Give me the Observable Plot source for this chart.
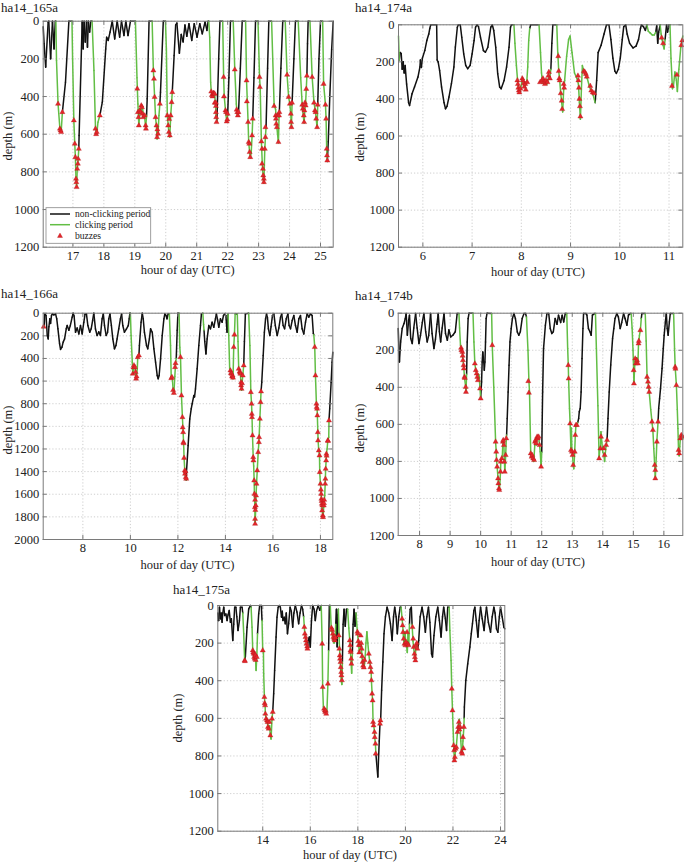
<!DOCTYPE html>
<html><head><meta charset="utf-8">
<script src="https://cdn.jsdelivr.net/npm/d3@7"></script>
<script src="https://cdn.jsdelivr.net/npm/@observablehq/plot@0.6"></script>
<style>
html,body{margin:0;padding:0;background:#fff;}
#root{position:relative;width:684px;height:862px;overflow:hidden;font-family:"Liberation Serif","Times New Roman",serif;color:#222;background:#fff;}
.title{position:absolute;font-size:13px;line-height:13px;white-space:nowrap;}
.xlab{position:absolute;font-size:12.5px;line-height:10px;white-space:nowrap;transform:translateX(-50%);}
.ylab{position:absolute;font-size:12.5px;line-height:12px;white-space:nowrap;transform:translate(-50%,-50%) rotate(-90deg);}
.panel{position:absolute;}
</style></head><body><div id="root"></div>
<script>
// ---- DATA: dive tracks [hour (UTC), depth m, clicking 0/1] and buzzes [hour, depth m] ----
const track165a = [
[16.04,30,0],[16.07,120,0],[16.12,244,0],[16.2,5,0],[16.22,0,0],[16.28,200,0],[16.34,0,0],[16.39,147,0],[16.43,0,0],
[16.45,0,1],[16.47,209,1],[16.52,439,1],[16.58,571,1],[16.62,589,1],[16.66,483,0],[16.76,324,0],[16.87,0,0],
[16.97,0,1],[16.99,200,1],[17.03,527,1],[17.06,651,1],[17.08,722,1],[17.1,837,1],[17.12,881,1],[17.14,784,1],[17.16,757,1],[17.19,678,0],
[17.2,607,0],[17.3,0,0],[17.33,147,0],[17.36,0,0],[17.4,111,0],[17.44,0,0],[17.47,138,0],[17.5,0,0],[17.54,58,0],[17.58,0,0],
[17.62,0,1],[17.68,262,1],[17.73,571,1],[17.77,600,1],[17.81,536,1],[17.87,501,0],[17.95,430,0],[18.06,147,0],[18.09,85,0],
[18.14,102,0],[18.2,58,0],[18.27,0,0],[18.35,94,0],[18.43,0,0],[18.51,85,0],[18.57,0,0],[18.65,76,0],[18.71,0,0],[18.78,76,0],[18.86,0,0],
[19.02,0,1],[19.07,300,1],[19.1,440,1],[19.13,554,1],[19.16,490,1],[19.2,470,1],[19.24,450,1],[19.28,500,1],[19.32,510,1],[19.35,565,1],
[19.38,500,0],[19.4,412,0],[19.46,0,0],
[19.56,0,1],[19.6,262,1],[19.64,403,1],[19.67,510,1],[19.7,560,1],[19.72,625,1],[19.75,598,1],[19.78,501,1],[19.81,439,0],[19.83,377,0],[19.92,0,0],
[19.99,0,1],[20.02,147,1],[20.05,501,1],[20.08,554,1],[20.1,589,1],[20.13,615,1],[20.16,501,1],[20.19,430,1],[20.21,377,0],
[20.27,182,0],[20.32,20,0],[20.36,10,0],[20.44,170,0],[20.5,70,0],[20.56,110,0],[20.62,20,0],[20.68,80,0],[20.75,13,0],[20.84,102,0],
[20.92,13,0],[21.01,85,0],[21.1,13,0],[21.18,67,0],[21.27,4,0],[21.33,49,0],[21.37,0,0],
[21.39,0,1],[21.42,85,1],[21.45,324,1],[21.47,374,1],[21.51,400,1],[21.54,381,1],[21.58,390,1],[21.61,445,1],[21.63,500,1],[21.65,536,0],
[21.66,480,0],[21.71,200,0],[21.75,0,0],
[21.84,0,1],[21.87,298,1],[21.89,400,1],[21.93,474,1],[21.97,534,1],[22.0,500,0],[22.04,300,0],[22.09,0,0],
[22.18,0,1],[22.23,257,1],[22.28,440,1],[22.31,500,1],[22.35,490,0],[22.41,250,0],[22.47,0,0],
[22.58,0,1],[22.61,315,1],[22.66,536,1],[22.68,642,1],[22.71,695,1],[22.73,725,1],[22.76,700,1],[22.79,607,1],[22.81,520,0],[22.85,300,0],[22.9,0,0],
[22.98,0,1],[23.03,297,1],[23.05,350,1],[23.09,639,1],[23.12,760,1],[23.15,837,1],[23.17,860,1],[23.2,678,1],[23.22,616,1],[23.24,565,0],[23.29,250,0],[23.33,0,0],
[23.42,0,1],[23.5,439,1],[23.55,470,1],[23.57,520,1],[23.59,563,1],[23.64,645,1],[23.66,510,1],[23.67,483,0],[23.72,250,0],[23.78,0,0],
[23.86,0,1],[23.92,285,1],[23.97,403,1],[24.01,440,1],[24.04,492,1],[24.06,565,1],[24.08,440,0],[24.14,200,0],[24.19,0,0],
[24.28,0,1],[24.36,300,1],[24.41,450,1],[24.44,500,1],[24.47,540,1],[24.49,480,1],[24.52,430,1],[24.54,360,1],[24.56,290,0],[24.58,120,0],[24.6,0,0],
[24.66,0,1],[24.73,297,1],[24.79,433,1],[24.84,483,1],[24.86,518,1],[24.89,565,1],[24.91,445,0],[24.95,200,0],[25.0,0,0],
[25.07,0,1],[25.1,333,1],[25.16,444,1],[25.18,518,1],[25.2,678,1],[25.22,745,0],[25.25,640,0],[25.3,400,0],[25.36,150,0],[25.41,0,0]
];
const buzz165a = [
[16.52,439],[16.58,571],[16.6,580],[16.62,589],[16.66,483],
[17.03,527],[17.06,651],[17.08,722],[17.1,837],[17.11,855],[17.12,881],[17.14,784],[17.16,757],[17.17,731],[17.19,678],
[17.73,571],[17.75,600],[17.77,589],[17.87,501],
[19.08,359],[19.1,483],[19.12,510],[19.13,554],[19.16,474],[19.19,483],[19.21,448],[19.23,457],[19.25,492],[19.27,510],[19.32,501],[19.35,554],[19.36,571],
[19.6,262],[19.62,306],[19.64,403],[19.67,510],[19.7,554],[19.72,616],[19.73,575],[19.75,598],[19.81,439],
[20.05,501],[20.08,554],[20.1,589],[20.11,520],[20.13,607],[20.16,501],[20.19,430],[20.21,377],
[21.47,374],[21.49,392],[21.51,400],[21.54,381],[21.56,385],[21.58,385],[21.58,433],[21.62,433],[21.62,451],[21.62,483],[21.63,510],[21.64,536],
[21.87,297],[21.88,400],[21.93,474],[21.95,483],[21.97,533],[21.99,522],[22.0,492],
[22.23,257],[22.29,470],[22.31,483],[22.33,501],[22.35,483],
[22.61,315],[22.62,426],[22.66,536],[22.68,642],[22.7,651],[22.71,695],[22.73,722],[22.79,607],[22.81,518],
[23.03,297],[23.04,350],[23.09,639],[23.11,678],[23.11,757],[23.14,784],[23.15,819],[23.17,837],[23.17,855],[23.2,678],[23.22,616],[23.22,563],
[23.5,451],[23.55,501],[23.56,518],[23.57,545],[23.59,563],[23.61,501],[23.66,501],[23.67,483],[23.64,642],
[23.92,285],[23.97,403],[24.01,439],[24.04,492],[24.05,536],[24.06,563],[24.08,433],
[24.41,444],[24.43,465],[24.46,501],[24.47,536],[24.48,474],[24.5,433],[24.52,448],[24.54,360],[24.56,290],
[24.73,297],[24.79,433],[24.82,474],[24.84,483],[24.86,518],[24.89,563],[24.91,444],
[25.1,333],[25.16,444],[25.18,518],[25.2,678],[25.21,713],[25.22,740]
];
const track174a = [
[5.505,60,1],[5.52,190,0],[5.54,150,0],[5.56,155,0],[5.58,240,0],[5.6,200,0],[5.62,260,0],[5.64,220,0],[5.67,320,0],[5.71,420,0],[5.73,435,0],
[5.78,372,0],[5.83,336,0],[5.9,282,0],[5.94,228,0],[5.95,190,0],[5.97,230,0],[5.99,180,0],[6.04,138,0],[6.08,85,0],[6.12,50,0],[6.14,20,0],
[6.16,0,0],[6.28,0,0],[6.29,190,0],[6.31,200,0],[6.34,246,0],[6.38,336,0],[6.43,420,0],[6.46,453,0],[6.49,440,0],[6.53,390,0],[6.58,318,0],
[6.63,228,0],[6.66,120,0],[6.7,13,0],[6.72,0,0],[6.76,0,0],[6.79,67,0],[6.83,157,0],[6.87,219,0],[6.91,237,0],[6.96,219,0],[7.0,157,0],
[7.04,85,0],[7.07,13,0],[7.1,0,0],[7.13,10,0],[7.17,67,0],[7.23,139,0],[7.27,148,0],[7.32,121,0],[7.38,13,0],[7.41,0,0],[7.44,31,0],
[7.48,121,0],[7.52,264,0],[7.56,336,0],[7.59,345,0],[7.65,300,0],[7.7,228,0],[7.75,121,0],[7.78,13,0],[7.8,0,0],
[7.85,0,1],[7.87,100,1],[7.9,220,1],[7.93,320,1],[7.96,360,1],[7.99,340,1],[8.02,295,1],[8.05,320,1],[8.08,330,1],[8.11,310,1],[8.13,228,1],
[8.15,85,1],[8.17,20,0],[8.19,0,0],
[8.36,0,1],[8.39,150,1],[8.41,260,1],[8.43,310,1],[8.46,320,1],[8.49,300,1],[8.52,320,1],[8.55,290,1],[8.58,280,1],[8.6,240,0],[8.62,100,0],[8.64,0,0],
[8.72,0,1],[8.74,150,1],[8.76,250,1],[8.78,300,1],[8.8,370,1],[8.82,420,1],[8.84,470,1],[8.86,350,1],[8.88,300,1],[8.92,170,1],[8.96,80,1],
[8.99,60,1],[9.03,150,1],[9.08,260,1],[9.13,290,1],[9.16,320,1],[9.18,420,1],[9.2,510,1],[9.22,350,1],[9.24,220,1],[9.27,250,1],[9.3,270,1],
[9.34,290,1],[9.38,330,1],[9.42,360,1],[9.46,380,1],[9.5,420,0],[9.53,300,0],[9.56,150,0],[9.62,110,0],[9.68,50,0],[9.73,0,0],[9.78,0,0],
[9.82,80,0],[9.86,180,0],[9.9,250,0],[9.93,262,0],[9.97,240,0],[10.01,180,0],[10.05,80,0],[10.08,10,0],[10.12,0,0],[10.15,50,0],[10.2,100,0],
[10.27,125,0],[10.33,115,0],[10.38,80,0],[10.42,20,0],[10.44,0,0],[10.48,10,0],[10.52,30,0],
[10.55,0,1],[10.58,35,1],[10.62,45,1],[10.66,55,1],[10.7,55,1],[10.73,40,0],[10.75,5,0],[10.77,100,0],[10.79,40,0],
[10.82,0,1],[10.84,50,1],[10.86,80,1],[10.88,110,1],[10.9,130,1],[10.92,80,0],[10.95,0,0],[10.97,40,0],[11.0,0,0],
[11.02,0,1],[11.04,180,1],[11.07,345,1],[11.09,330,1],[11.12,255,1],[11.15,300,1],[11.17,360,1],[11.2,240,1],[11.24,120,1],[11.28,60,1]
];
const buzz174a = [
[7.92,300],[7.93,320],[7.94,340],[7.95,355],[7.96,365],[7.98,345],[8.02,290],[8.03,300],[8.05,315],[8.06,335],[8.08,320],[8.09,350],[8.12,310],
[8.38,310],[8.42,300],[8.44,290],[8.46,310],[8.48,320],[8.5,300],[8.53,310],[8.55,275],[8.56,255],[8.58,290],
[8.75,170],[8.76,250],[8.77,290],[8.78,300],[8.8,370],[8.82,410],[8.83,455],[8.86,320],[8.87,340],
[9.15,275],[9.16,300],[9.17,340],[9.18,400],[9.19,440],[9.2,495],
[9.27,250],[9.29,255],[9.31,265],[9.33,280],[9.4,330],[9.42,355],[9.45,365],[9.48,370],
[10.85,70],[10.88,100],[11.06,330],[11.16,270],[11.25,110],[11.27,85]
];
const track166a = [
[6.33,130,1],[6.37,110,0],[6.4,6,0],[6.45,20,0],[6.5,197,0],[6.54,227,0],[6.57,120,0],[6.61,50,0],[6.64,90,0],[6.68,20,0],[6.72,6,0],
[6.78,15,0],[6.85,6,0],[6.9,50,0],[6.95,138,0],[7.02,271,0],[7.06,320,0],[7.12,300,0],[7.17,256,0],[7.23,227,0],[7.3,138,0],[7.34,109,0],
[7.41,150,0],[7.47,110,0],[7.55,35,0],[7.59,0,0],[7.63,25,0],[7.69,168,0],[7.76,130,0],[7.83,183,0],[7.9,109,0],[7.97,183,0],[8.04,80,0],
[8.09,10,0],[8.15,6,0],[8.21,109,0],[8.29,168,0],[8.35,138,0],[8.41,65,0],[8.46,0,0],[8.53,140,0],[8.6,197,0],[8.67,165,0],[8.74,197,0],
[8.81,50,0],[8.86,6,0],[8.91,109,0],[8.98,197,0],[9.04,168,0],[9.09,50,0],[9.14,6,0],[9.2,109,0],[9.26,227,0],[9.33,315,0],[9.39,286,0],
[9.44,227,0],[9.51,138,0],[9.58,50,0],[9.63,6,0],[9.68,109,0],[9.75,168,0],[9.83,140,0],[9.91,109,0],[9.95,50,0],[9.98,0,0],
[10.0,0,1],[10.03,197,1],[10.08,433,1],[10.1,536,1],[10.15,462,1],[10.19,477,1],[10.22,536,1],[10.24,580,1],[10.29,492,1],[10.31,389,1],
[10.36,374,0],[10.38,286,0],[10.45,80,0],[10.5,0,0],[10.54,50,0],[10.59,168,0],[10.68,286,0],[10.73,315,0],[10.8,227,0],[10.85,138,0],
[10.92,168,0],[10.99,315,0],[11.06,433,0],[11.13,551,0],[11.17,580,0],[11.21,551,0],[11.27,404,0],[11.34,197,0],[11.41,50,0],[11.45,6,0],
[11.5,20,0],[11.54,50,0],[11.59,6,0],
[11.64,6,1],[11.69,286,1],[11.72,575,1],[11.76,560,1],[11.8,680,1],[11.83,710,1],[11.87,560,1],[11.9,450,1],[11.93,400,0],[11.97,150,0],[12.0,0,0],
[12.05,0,1],[12.08,300,1],[12.11,389,1],[12.15,728,1],[12.19,919,1],[12.22,1052,1],[12.24,1150,1],[12.26,1279,1],[12.29,1390,1],[12.31,1430,1],
[12.33,1449,1],[12.35,1475,0],[12.36,1405,0],[12.43,1170,0],[12.5,934,0],[12.56,845,0],[12.6,801,0],[12.67,728,0],[12.7,740,0],[12.74,669,0],
[12.81,492,0],[12.88,286,0],[12.95,109,0],[12.99,6,0],
[13.05,0,1],[13.08,100,1],[13.1,150,0],[13.13,250,0],[13.18,360,0],[13.23,227,0],[13.3,109,0],[13.37,138,0],[13.44,80,0],[13.51,124,0],
[13.58,50,0],[13.62,6,0],[13.67,60,0],[13.72,124,0],[13.79,50,0],[13.86,80,0],[13.92,20,0],[13.97,6,0],[14.02,21,0],[14.07,168,0],
[14.11,6,1],[14.14,197,1],[14.18,492,1],[14.21,507,1],[14.26,536,1],[14.3,560,1],[14.32,580,1],[14.35,300,1],[14.38,190,1],[14.41,6,0],
[14.5,6,1],[14.53,250,1],[14.56,492,1],[14.6,516,1],[14.63,536,1],[14.66,639,1],[14.68,680,1],[14.7,620,1],[14.73,551,1],[14.77,462,0],
[14.8,250,0],[14.84,6,0],
[14.98,0,1],[15.03,286,1],[15.07,698,1],[15.1,801,1],[15.12,919,1],[15.14,1081,1],[15.17,1273,1],[15.19,1350,1],[15.21,1479,1],[15.22,1597,1],
[15.24,1715,1],[15.25,1865,1],[15.28,1700,1],[15.29,1612,1],[15.31,1508,1],[15.34,1390,1],[15.38,1228,1],[15.41,1140,1],[15.45,934,1],
[15.48,787,1],[15.5,692,0],[15.53,610,0],[15.59,374,0],[15.64,168,0],[15.69,50,0],[15.73,6,0],[15.77,40,0],[15.81,138,0],[15.87,197,0],
[15.92,120,0],[15.98,21,0],[16.04,6,0],[16.1,109,0],[16.18,197,0],[16.25,130,0],[16.32,35,0],[16.37,6,0],[16.43,109,0],[16.49,138,0],
[16.56,50,0],[16.63,6,0],[16.68,109,0],[16.74,138,0],[16.81,65,0],[16.88,21,0],[16.95,109,0],[17.02,168,0],[17.09,50,0],[17.16,21,0],
[17.23,138,0],[17.3,183,0],[17.37,80,0],[17.44,6,0],[17.51,35,0],[17.58,6,0],[17.65,21,0],[17.7,180,0],
[17.72,190,1],[17.76,300,1],[17.79,551,1],[17.83,801,1],[17.86,845,1],[17.87,904,1],[17.89,1052,1],[17.9,1125,1],[17.93,1214,1],[17.96,1258,1],
[17.97,1405,1],[18.0,1508,1],[18.03,1597,1],[18.04,1641,1],[18.06,1685,1],[18.07,1744,1],[18.1,1788,1],[18.11,1810,1],[18.14,1700,1],
[18.16,1650,1],[18.18,1612,1],[18.2,1508,1],[18.22,1376,1],[18.24,1302,1],[18.25,1243,1],[18.28,1200,1],[18.31,1125,1],[18.35,1096,1],
[18.36,949,0],[18.39,845,0],[18.45,610,0],[18.49,433,0],[18.52,345,0]
];
const buzz166a = [
[6.35,120],
[10.1,536],[10.13,480],[10.15,462],[10.19,477],[10.22,520],[10.24,580],[10.26,560],[10.31,389],[10.36,374],
[11.72,575],[11.75,565],[11.8,680],[11.83,705],[11.88,477],[11.9,442],
[12.11,389],[12.15,728],[12.19,919],[12.2,1010],[12.22,1052],[12.23,1140],[12.24,1150],[12.26,1279],[12.29,1390],[12.3,1420],[12.32,1400],[12.33,1449],[12.35,1464],
[14.21,507],[14.23,530],[14.26,536],[14.28,560],[14.3,551],[14.32,570],[14.35,300],[14.38,190],
[14.56,492],[14.6,516],[14.62,525],[14.63,536],[14.66,610],[14.66,639],[14.68,669],[14.7,620],[14.73,551],[14.77,462],
[15.07,698],[15.1,801],[15.11,890],[15.12,919],[15.14,1081],[15.17,1273],[15.18,1302],[15.21,1479],[15.22,1597],[15.24,1715],[15.25,1818],
[15.25,1862],[15.25,1650],[15.26,1740],[15.28,1700],[15.29,1612],[15.31,1508],[15.34,1390],[15.38,1228],[15.41,1140],[15.42,1096],[15.45,934],[15.48,787],[15.5,692],
[17.76,300],[17.79,551],[17.83,801],[17.84,830],[17.86,845],[17.87,904],[17.89,1052],[17.9,1125],[17.93,1214],[17.96,1258],[17.97,1405],
[18.0,1508],[18.02,1560],[18.03,1597],[18.04,1641],[18.05,1660],[18.06,1685],[18.07,1744],[18.08,1700],[18.1,1788],[18.11,1803],[18.14,1700],
[18.15,1680],[18.16,1650],[18.2,1508],[18.21,1464],[18.22,1376],[18.24,1302],[18.25,1243],[18.26,1260],[18.31,1125],[18.32,1130],[18.36,949]
];
const track174b = [
[7.3,83,0],[7.34,263,0],[7.38,155,0],[7.43,83,0],[7.49,56,0],[7.53,30,0],[7.56,2,0],[7.6,119,0],[7.64,40,0],[7.67,11,0],[7.71,137,0],
[7.76,164,0],[7.81,80,0],[7.87,2,0],[7.92,80,0],[7.98,164,0],[8.03,120,0],[8.09,50,0],[8.14,2,0],[8.2,100,0],[8.25,155,0],[8.3,120,0],
[8.36,2,0],[8.41,110,0],[8.47,191,0],[8.52,140,0],[8.57,60,0],[8.61,2,0],[8.65,100,0],[8.69,155,0],[8.74,80,0],[8.8,2,0],[8.85,110,0],
[8.91,146,0],[8.96,90,0],[9.02,128,0],[9.09,119,0],[9.17,100,0],[9.23,2,0],
[9.29,2,1],[9.31,80,1],[9.34,173,1],[9.36,187,1],[9.4,209,1],[9.42,254,1],[9.44,281,1],[9.45,299,1],[9.47,344,1],[9.51,398,1],[9.52,425,1],
[9.54,330,0],[9.56,155,0],[9.59,29,0],[9.62,0,0],
[9.75,0,1],[9.78,155,1],[9.81,272,1],[9.84,308,1],[9.87,326,1],[9.89,344,1],[9.91,362,1],[9.93,330,1],[9.95,340,1],[9.98,407,1],[10.0,461,0],
[10.03,371,0],[10.05,263,0],[10.07,209,0],[10.1,260,0],[10.12,308,0],[10.14,263,0],[10.16,155,0],[10.18,29,0],[10.21,0,0],
[10.36,2,1],[10.38,173,1],[10.43,400,1],[10.49,694,1],[10.51,748,1],[10.52,793,1],[10.54,829,1],[10.57,892,1],[10.58,919,1],[10.6,946,1],
[10.61,955,1],[10.63,920,1],[10.65,856,1],[10.66,802,1],[10.69,784,1],[10.71,770,1],[10.73,694,1],[10.74,685,1],[10.76,712,1],[10.78,802,1],
[10.79,856,1],[10.82,766,1],[10.84,676,1],[10.85,658,0],[10.87,568,0],[10.9,425,0],[10.93,281,0],[10.96,155,0],[11.0,83,0],[11.04,29,0],
[11.09,2,0],[11.14,30,0],[11.2,101,0],[11.25,119,0],[11.3,100,0],[11.36,29,0],[11.42,2,0],[11.47,2,0],
[11.5,20,1],[11.55,200,1],[11.58,362,1],[11.6,425,1],[11.64,757,1],[11.67,775,1],[11.7,790,1],[11.74,800,1],[11.78,694,1],[11.8,685,1],
[11.82,712,1],[11.85,667,1],[11.9,667,1],[11.93,712,1],[11.95,748,1],[11.98,829,1],[12.0,750,0],[12.03,425,0],[12.06,191,0],[12.12,65,0],
[12.17,2,0],[12.23,2,0],[12.28,83,0],[12.33,110,0],[12.38,100,0],[12.44,29,0],[12.5,60,0],[12.55,11,0],[12.62,50,0],[12.67,11,0],[12.72,47,0],[12.77,2,0],
[12.82,2,1],[12.85,191,1],[12.87,281,1],[12.88,353,1],[12.91,515,1],[12.93,596,1],[12.96,739,1],[12.97,620,1],[12.99,748,1],[13.01,766,1],
[13.03,820,1],[13.05,840,1],[13.08,748,1],[13.1,658,1],[13.12,604,1],[13.15,604,1],[13.18,590,0],[13.21,568,0],[13.23,532,0],[13.26,514,0],
[13.29,425,0],[13.32,245,0],[13.35,83,0],[13.37,2,0],[13.45,2,0],[13.48,10,0],[13.53,83,0],[13.58,100,0],[13.62,119,0],[13.66,10,0],[13.73,2,0],
[13.76,2,1],[13.79,191,1],[13.84,500,1],[13.88,784,1],[13.9,740,1],[13.92,730,1],[13.94,640,1],[13.97,700,1],[14.0,750,1],[14.03,760,1],
[14.06,800,1],[14.08,760,1],[14.11,712,1],[14.14,685,0],[14.17,568,0],[14.21,425,0],[14.26,280,0],[14.32,137,0],[14.36,83,0],[14.4,29,0],
[14.46,2,0],[14.51,20,0],[14.57,83,0],[14.62,50,0],[14.68,2,0],[14.73,29,0],[14.79,65,0],[14.84,10,0],[14.9,2,0],
[14.93,2,1],[14.96,80,1],[14.99,200,1],[15.01,308,1],[15.02,380,1],[15.04,300,1],[15.06,245,1],[15.08,272,1],[15.1,240,1],[15.12,254,1],
[15.15,272,1],[15.17,164,1],[15.2,120,1],[15.23,92,1],[15.26,29,0],[15.28,2,0],
[15.39,2,1],[15.42,150,1],[15.45,344,1],[15.5,398,1],[15.52,425,1],[15.57,520,1],[15.61,586,1],[15.64,631,1],[15.67,730,1],[15.7,820,1],
[15.72,892,1],[15.75,780,1],[15.77,694,1],[15.81,586,0],[15.83,514,0],[15.86,461,0],[15.89,407,0],[15.94,299,0],[15.98,191,0],[16.01,119,0],
[16.05,47,0],[16.08,2,0],[16.11,83,0],[16.14,119,0],[16.18,47,0],[16.21,2,0],
[16.32,2,1],[16.35,191,1],[16.37,290,1],[16.41,389,1],[16.44,520,1],[16.46,622,1],[16.48,739,1],[16.5,770,1],[16.52,720,1],[16.54,676,1],
[16.57,658,1],[16.6,667,1],[16.62,680,1]
];
const buzz174b = [
[9.36,187],[9.37,200],[9.4,209],[9.41,230],[9.42,254],[9.44,281],[9.45,299],[9.47,344],[9.48,350],[9.51,398],[9.52,425],
[9.81,272],[9.84,308],[9.87,326],[9.89,344],[9.91,362],[9.98,407],[10.0,461],
[10.38,173],[10.49,694],[10.51,748],[10.52,793],[10.54,829],[10.57,892],[10.58,919],[10.6,946],[10.61,955],[10.65,856],[10.66,802],[10.69,784],
[10.73,694],[10.74,685],[10.76,712],[10.78,802],[10.79,856],[10.82,766],[10.84,676],
[11.56,367],[11.58,430],[11.64,757],[11.67,775],[11.69,766],[11.72,784],[11.75,793],[11.78,694],[11.8,685],[11.82,703],[11.85,667],[11.87,676],
[11.9,667],[11.93,712],[11.98,829],
[12.87,281],[12.88,353],[12.93,596],[12.96,739],[12.99,748],[13.01,766],[13.03,820],[13.08,748],[13.1,658],[13.12,604],[13.15,604],
[13.88,784],[13.92,730],[13.94,667],[14.03,730],[14.06,766],[14.11,712],[14.14,685],
[15.01,308],[15.02,380],[15.06,245],[15.08,272],[15.12,254],[15.15,272],[15.17,164],[15.18,150],[15.23,92],
[15.45,344],[15.48,370],[15.5,398],[15.52,425],[15.61,586],[15.64,631],[15.7,820],[15.72,847],[15.72,892],[15.77,694],[15.81,586],
[16.37,290],[16.38,300],[16.41,389],[16.48,739],[16.5,757],[16.54,676],[16.57,658],[16.61,667]
];
const track175a = [
[12.11,40,0],[12.13,80,0],[12.15,80,0],[12.18,9,0],[12.22,71,0],[12.25,40,0],[12.29,89,0],[12.32,40,0],[12.36,9,0],[12.4,53,0],[12.45,45,0],
[12.5,80,0],[12.54,50,0],[12.59,27,0],[12.64,89,0],[12.68,70,0],[12.74,186,0],[12.78,100,0],[12.82,9,0],[12.87,9,0],[12.91,60,0],[12.96,133,0],
[13.02,80,0],[13.06,9,0],[13.13,9,0],
[13.16,40,1],[13.2,150,1],[13.24,292,0],[13.27,270,0],[13.34,115,0],[13.41,18,0],[13.48,0,0],
[13.51,9,1],[13.55,115,1],[13.58,239,1],[13.62,257,1],[13.66,283,1],[13.69,266,1],[13.72,345,1],[13.75,274,1],[13.78,150,0],[13.83,44,0],
[13.87,0,0],[13.94,0,0],
[13.97,80,1],[14.0,239,1],[14.03,250,1],[14.04,363,1],[14.07,487,1],[14.1,531,1],[14.11,576,1],[14.14,602,1],[14.18,611,1],[14.22,646,1],
[14.25,655,1],[14.29,640,1],[14.32,691,1],[14.35,710,1],[14.39,602,1],[14.42,566,0],[14.46,469,0],[14.5,345,0],[14.56,168,0],[14.6,62,0],
[14.65,9,0],[14.7,0,0],[14.74,9,0],[14.79,62,0],[14.82,30,0],[14.85,80,0],[14.9,62,0],[14.95,97,0],[14.99,40,0],[15.04,150,0],[15.09,97,0],
[15.15,9,0],[15.2,30,0],[15.26,115,0],[15.31,40,0],[15.37,0,0],[15.44,35,0],[15.51,97,0],[15.57,40,0],[15.63,0,0],[15.68,20,0],
[15.72,60,1],[15.75,115,1],[15.77,150,1],[15.8,168,1],[15.82,186,1],[15.84,204,1],[15.87,218,1],[15.88,230,0],[15.91,186,0],[15.96,168,0],
[16.0,221,0],[16.05,80,0],[16.1,0,0],[16.16,20,0],[16.21,80,0],[16.26,30,0],[16.33,0,0],[16.4,25,0],
[16.46,0,1],[16.5,204,1],[16.52,434,1],[16.55,540,1],[16.6,558,1],[16.65,576,1],[16.7,560,1],[16.74,416,1],[16.77,240,0],[16.8,0,0],
[16.84,0,1],[16.88,119,1],[16.92,150,1],[16.96,186,1],[17.0,200,1],[17.04,186,1],[17.07,100,0],[17.1,20,0],[17.13,220,0],[17.16,50,0],
[17.18,20,1],[17.22,200,1],[17.26,300,1],[17.3,400,1],[17.33,420,1],[17.35,300,0],[17.38,100,0],[17.42,20,0],[17.47,110,0],[17.52,20,0],
[17.57,20,1],[17.62,120,1],[17.66,186,1],[17.7,270,1],[17.74,360,1],[17.77,250,0],[17.8,100,0],[17.84,20,0],[17.88,110,0],
[17.92,40,1],[17.98,140,1],[18.02,190,1],[18.06,250,1],[18.1,220,1],[18.14,200,1],[18.18,280,1],[18.22,320,1],[18.26,330,1],[18.3,290,1],
[18.34,200,1],[18.38,140,1],[18.42,200,1],[18.46,257,1],[18.5,301,1],[18.53,328,1],[18.56,354,1],[18.57,398,1],[18.6,469,1],[18.62,505,1],
[18.64,620,1],[18.67,638,1],[18.7,673,1],[18.71,700,1],[18.74,740,1],[18.76,790,0],[18.84,912,0],[18.9,720,0],[18.93,630,1],[18.96,605,0],
[19.0,450,0],[19.05,300,0],[19.1,150,0],[19.16,60,0],[19.23,9,0],[19.3,40,0],[19.37,97,0],[19.44,186,0],[19.5,60,0],[19.55,9,0],[19.61,60,0],
[19.66,150,0],[19.72,60,0],[19.78,9,0],
[19.82,9,1],[19.86,71,1],[19.89,110,1],[19.92,180,1],[19.95,200,1],[19.98,140,1],[20.02,200,1],[20.05,215,1],[20.08,250,1],[20.11,150,1],
[20.14,210,1],[20.17,100,0],[20.2,20,0],[20.25,9,0],
[20.28,100,1],[20.32,190,1],[20.35,230,1],[20.38,260,1],[20.41,290,1],[20.44,220,1],[20.48,200,1],[20.52,230,0],[20.56,186,0],[20.62,60,0],
[20.7,9,0],[20.77,60,0],[20.84,142,0],[20.9,60,0],[20.97,9,0],[21.03,90,0],[21.1,257,0],[21.14,274,0],[21.2,160,0],[21.28,60,0],[21.36,9,0],
[21.43,80,0],[21.5,168,0],[21.56,60,0],[21.61,9,0],[21.68,70,0],[21.73,133,0],[21.78,9,0],
[21.84,9,1],[21.87,133,1],[21.92,292,1],[21.95,443,1],[21.98,558,1],[22.03,744,1],[22.06,824,1],[22.08,806,1],[22.11,762,1],[22.14,753,1],
[22.19,673,1],[22.22,646,1],[22.25,620,1],[22.27,605,1],[22.3,646,1],[22.33,720,1],[22.36,779,1],[22.39,788,1],[22.42,720,1],[22.46,646,1],
[22.47,600,0],[22.48,540,0],[22.54,398,0],[22.62,310,0],[22.71,221,0],[22.77,150,0],[22.82,97,0],[22.88,27,0],[22.92,9,0],[22.98,80,0],
[23.05,168,0],[23.1,80,0],[23.16,9,0],[23.23,70,0],[23.31,133,0],[23.36,60,0],[23.41,9,0],[23.49,90,0],[23.58,142,0],[23.65,60,0],[23.72,9,0],
[23.77,40,0],[23.83,124,0],[23.89,142,0],[23.95,60,0],[24.0,9,0],[24.07,60,0],[24.14,115,0],[24.18,124,0]
];
const buzz175a = [
[13.24,292],[13.25,296],
[13.58,239],[13.6,250],[13.62,257],[13.64,274],[13.66,283],[13.68,260],[13.69,266],[13.7,290],[13.75,274],
[14.0,239],[14.07,487],[14.08,520],[14.1,531],[14.11,576],[14.14,602],[14.18,611],[14.2,620],[14.22,646],[14.25,655],[14.28,620],[14.32,691],
[14.39,602],[14.42,566],
[15.75,115],[15.77,150],[15.8,168],[15.82,186],[15.84,204],[15.87,218],[15.88,230],
[16.5,204],[16.52,434],[16.58,549],[16.61,558],[16.63,567],[16.65,560],[16.67,576],[16.74,416],
[16.89,119],[16.92,130],[16.95,150],[16.97,168],[17.0,177],[17.03,186],[17.06,170],
[17.2,160],[17.22,230],[17.24,266],[17.25,283],[17.27,301],[17.28,328],[17.3,354],[17.31,372],[17.33,398],
[17.66,186],[17.68,212],[17.69,239],[17.7,248],[17.72,283],[17.73,310],
[17.98,140],[18.0,150],[18.02,190],[18.04,210],[18.06,250],[18.08,210],[18.12,160],[18.14,200],[18.16,230],[18.18,270],[18.2,300],[18.22,320],
[18.25,330],[18.28,290],
[18.46,257],[18.5,301],[18.53,328],[18.56,354],[18.57,398],[18.6,469],[18.62,505],[18.64,620],[18.66,638],[18.7,673],[18.71,700],[18.74,735],[18.75,788],
[18.93,629],[18.95,611],
[19.86,71],[19.88,106],[19.9,142],[19.93,177],[19.96,204],[20.0,212],[20.03,195],[20.07,142],[20.1,204],[20.13,212],
[20.3,115],[20.33,177],[20.35,221],[20.38,257],[20.4,275],[20.42,292],[20.45,212],[20.48,200],[20.5,230],
[21.95,443],[21.98,558],[22.03,744],[22.05,770],[22.06,824],[22.08,806],[22.11,762],[22.14,753],[22.19,673],[22.22,646],[22.25,620],[22.27,660],
[22.3,646],[22.36,779],[22.39,788],[22.42,700],[22.44,760],[22.46,646]
];

const panelTitles = ["ha14_165a", "ha14_174a", "ha14_166a", "ha14_174b", "ha14_175a"];
const xDomains = [[16.04, 25.41], [5.505, 11.28], [6.33, 18.52], [7.3, 16.62], [12.11, 24.18]];
const xTickValues = [
  [17, 18, 19, 20, 21, 22, 23, 24, 25],
  [6, 7, 8, 9, 10, 11],
  [8, 10, 12, 14, 16, 18],
  [8, 9, 10, 11, 12, 13, 14, 15, 16],
  [14, 16, 18, 20, 22, 24]
];
const depthMax = [1200, 1200, 2000, 1200, 1200];
const xAxisLabel = "hour of day (UTC)";
const yAxisLabel = "depth (m)";
const legendLabels = ["non-clicking period", "clicking period", "buzzes"];

// ---- LAYOUT (styles only) ----
const tracks = [track165a, track174a, track166a, track174b, track175a];
const buzzes = [buzz165a, buzz174a, buzz166a, buzz174b, buzz175a];
const layout = [
  {left: 0,   top: 0,   w: 340, h: 282, mL: 42.7, mR: 7.3,  mT: 20.7, mB: 35.3, tx: 1,   ty: 1,   lx: 187.7, ly: 265,   yx: 7.5, yy: 136},
  {left: 340, top: 0,   w: 344, h: 282, mL: 58,   mR: 1.7,  mT: 24.3, mB: 35.3, tx: 355, ty: 1,   lx: 538,   ly: 267,   yx: 360, yy: 137},
  {left: 0,   top: 285, w: 340, h: 290, mL: 42.7, mR: 7.7,  mT: 27.7, mB: 36,   tx: 1,   ty: 287, lx: 187.5, ly: 559.5, yx: 7.5, yy: 430},
  {left: 340, top: 285, w: 344, h: 290, mL: 57.7, mR: 1.7,  mT: 27.7, mB: 40,   tx: 355, ty: 289, lx: 538,   ly: 556.5, yx: 360, yy: 428},
  {left: 160, top: 575, w: 360, h: 287, mL: 57.3, mR: 15.7, mT: 30,   mB: 31.3, tx: 173, ty: 583, lx: 350,   ly: 849.5, yx: 178, yy: 718}
];
const FONT = "'Liberation Serif','Times New Roman',serif";
const BLACK = "#111111", GREEN = "#62be45", RED = "#e4252b", RED_EDGE = "#b01818";

const root = document.getElementById("root");
function addDiv(cls, text, x, y) {
  const d = document.createElement("div");
  d.className = cls; d.textContent = text;
  d.style.left = x + "px"; d.style.top = y + "px";
  root.appendChild(d);
  return d;
}

tracks.forEach((track, p) => {
  const L = layout[p];
  const xTicks = xTickValues[p];
  const yTicks = d3.range(0, depthMax[p] + 1, 200);
  const fw = L.w - L.mL - L.mR, fh = L.h - L.mT - L.mB;
  const seg = d3.range(track.length - 1);
  const segOpts = (stroke) => ({
    x1: i => track[i][0], y1: i => track[i][1],
    x2: i => track[i + 1][0], y2: i => track[i + 1][1],
    stroke, strokeWidth: 1.5, strokeLinecap: "round"
  });
  const grid = {stroke: "#c2c2c2", strokeOpacity: 1, strokeWidth: 0.8, strokeDasharray: "1.2,2"};
  const chart = Plot.plot({
    width: L.w, height: L.h,
    marginLeft: L.mL, marginRight: L.mR, marginTop: L.mT, marginBottom: L.mB,
    style: {fontFamily: FONT, fontSize: "12.5px", color: "#222", background: "transparent", overflow: "visible"},
    x: {domain: xDomains[p], label: null},
    y: {domain: [0, depthMax[p]], reverse: true, label: null},
    marks: [
      Plot.gridX(xTicks, grid),
      Plot.gridY(yTicks, grid),
      Plot.link(seg.filter(i => !track[i][2]), segOpts(BLACK)),
      Plot.link(seg.filter(i => track[i][2]), segOpts(GREEN)),
      Plot.dot(buzzes[p], {x: d => d[0], y: d => d[1], symbol: "triangle", r: 1.9, fill: RED, stroke: RED_EDGE, strokeWidth: 0.35}),
      Plot.tickX(xTicks, {x: d => d, insetTop: fh - 4, stroke: "#777"}),
      Plot.tickX(xTicks, {x: d => d, insetBottom: fh - 4, stroke: "#777"}),
      Plot.tickY(yTicks, {y: d => d, insetRight: fw - 4, stroke: "#777"}),
      Plot.tickY(yTicks, {y: d => d, insetLeft: fw - 4, stroke: "#777"}),
      Plot.frame({stroke: "#7a7a7a"}),
      Plot.axisX(xTicks, {anchor: "bottom", tickSize: 0, tickPadding: 4, label: null, tickFormat: d => String(d),
        fontFamily: FONT, fontSize: 12.5, fill: "#222"}),
      Plot.axisY(yTicks, {anchor: "left", tickSize: 0, tickPadding: 4, label: null, tickFormat: d => String(d),
        fontFamily: FONT, fontSize: 12.5, fill: "#222"})
    ]
  });
  const wrap = document.createElement("div");
  wrap.className = "panel";
  wrap.style.left = L.left + "px"; wrap.style.top = L.top + "px";
  wrap.appendChild(chart);
  root.appendChild(wrap);
  addDiv("title", panelTitles[p], L.tx, L.ty);
  addDiv("xlab", xAxisLabel, L.lx, L.ly);
  addDiv("ylab", yAxisLabel, L.yx, L.yy);
});

// legend (panel 1)
const lg = d3.select(root).append("svg")
  .attr("width", 120).attr("height", 42)
  .style("position", "absolute").style("left", "44px").style("top", "205px");
lg.append("rect").attr("x", 2).attr("y", 2.7).attr("width", 104.7).attr("height", 35.6)
  .attr("fill", "#fff").attr("stroke", "#888").attr("stroke-width", 0.8);
lg.append("line").attr("x1", 6).attr("x2", 26).attr("y1", 9).attr("y2", 9).attr("stroke", BLACK).attr("stroke-width", 1.5);
lg.append("line").attr("x1", 6).attr("x2", 26).attr("y1", 19.7).attr("y2", 19.7).attr("stroke", GREEN).attr("stroke-width", 1.5);
lg.append("path").attr("d", d3.symbol(d3.symbolTriangle, 11)()).attr("transform", "translate(16,31)")
  .attr("fill", RED).attr("stroke", RED_EDGE).attr("stroke-width", 0.35);
const lgY = [12.4, 23.1, 34.4];
legendLabels.forEach((t, i) => {
  lg.append("text").attr("x", 31).attr("y", lgY[i]).text(t)
    .attr("font-family", FONT).attr("font-size", 9.6).attr("fill", "#222");
});
</script></body></html>
